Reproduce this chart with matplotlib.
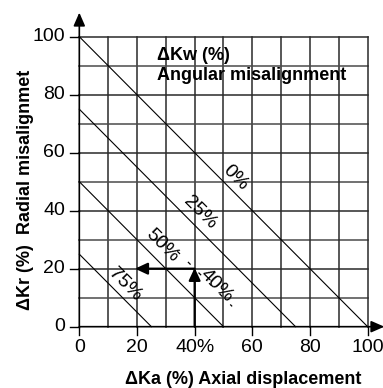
import matplotlib.pyplot as plt
import numpy as np

plt.rcParams['font.family'] = ['Liberation Sans', 'DejaVu Sans']

# --- chart data ---
tick_vals = [0, 20, 40, 60, 80, 100]
x_tick_labels = ['0', '20', '40%', '60', '80', '100']
y_tick_labels = ['0', '20', '40', '60', '80', '100']
grid_vals = np.arange(10, 101, 10)

# angular misalignment lines: x + y = const
line_sums = [100, 75, 50, 25]
line_labels = ['0%', '25%', '50%', '75%']
label_x = [54, 42, 28.8, 16]
label_y = [51.4, 39.3, 27.9, 14.5]

# dashed 40% example line and its label
dash_sum = 60
dash_x = [34, 53]
dash_label = '40%'
dash_label_pos = (47.6, 14.1)

# example reading: from (40, 0) up to (40, 20), then left to (20, 20)
example_ka = 40
example_kr = 20
example_end_ka = 20

fig = plt.figure(figsize=(3.83, 3.88), dpi=100)
ax = fig.add_axes([0.1958, 0.1495, 0.804, 0.8247])
ax.set_xlim(-1.5, 105.3)
ax.set_ylim(-1.14, 109.2)
for s in ax.spines.values():
    s.set_visible(False)
ax.set_xticks([])
ax.set_yticks([])

# --- grid ---
for g in grid_vals:
    ax.plot([g, g], [0, 100], color='#2a2a2a', lw=1.1, zorder=1)
    ax.plot([0, 100], [g, g], color='#4a4a4a' if g % 20 else '#2a2a2a',
            lw=1.1, zorder=1)

# --- diagonal lines ---
for s, lab, lx, ly in zip(line_sums, line_labels, label_x, label_y):
    ax.plot([0, s], [s, 0], color='black', lw=0.8, zorder=2)
    ax.text(lx, ly, lab, rotation=-45, rotation_mode='anchor',
            ha='center', va='center', fontsize=14, zorder=3)

ax.plot(dash_x, [dash_sum - dash_x[0], dash_sum - dash_x[1]], color='black',
        lw=0.9, linestyle=(0, (3, 9)), zorder=2)
ax.text(*dash_label_pos, dash_label, rotation=-45, rotation_mode='anchor',
        ha='center', va='center', fontsize=14, zorder=3)

# --- example arrows ---
arrow_style = dict(arrowstyle='-|>,head_length=0.75,head_width=0.35',
                   color='black', lw=1.6, shrinkA=0, shrinkB=0)
ax.annotate('', xy=(example_ka, example_kr + 0.3), xytext=(example_ka, 0),
            arrowprops=arrow_style, zorder=4)
ax.annotate('', xy=(example_end_ka - 0.7, example_kr),
            xytext=(example_ka, example_kr), arrowprops=arrow_style, zorder=4)

# --- axes with arrows ---
axis_style = dict(arrowstyle='-|>,head_length=0.8,head_width=0.35',
                  color='black', lw=1.2, shrinkA=0, shrinkB=0)
ax.annotate('', xy=(0, 108.3), xytext=(0, 0), arrowprops=axis_style,
            annotation_clip=False, zorder=5)
ax.annotate('', xy=(105.8, 0), xytext=(0, 0), arrowprops=axis_style,
            annotation_clip=False, zorder=5)

# ticks and tick labels
for v, lab in zip(tick_vals, x_tick_labels):
    ax.plot([v, v], [0, -2.9], color='black', lw=1.0, clip_on=False, zorder=5)
    ax.text(v, -4.2, lab, ha='center', va='top', fontsize=14)
for v, lab in zip(tick_vals, y_tick_labels):
    ax.plot([0, -3.2], [v, v], color='black', lw=1.0, clip_on=False, zorder=5)
    ax.text(-5.0, v, lab, ha='right', va='center', fontsize=14)

# --- text ---
ax.text(27, 92.0, 'ΔKw (%)', fontsize=13, fontweight='bold',
        ha='left', va='baseline')
ax.text(27, 85.1, 'Angular misalignment', fontsize=13, fontweight='bold',
        ha='left', va='baseline')

fig.text(243 / 383, 1 - 380 / 388, 'ΔKa (%) Axial displacement',
         fontsize=13, fontweight='bold', ha='center', va='center')
fig.text(25 / 383, 1 - 190 / 388, 'ΔKr (%)  Radial misalignmet',
         fontsize=13, fontweight='bold', ha='center', va='center',
         rotation=90)

fig.savefig('out.png', dpi=100)
